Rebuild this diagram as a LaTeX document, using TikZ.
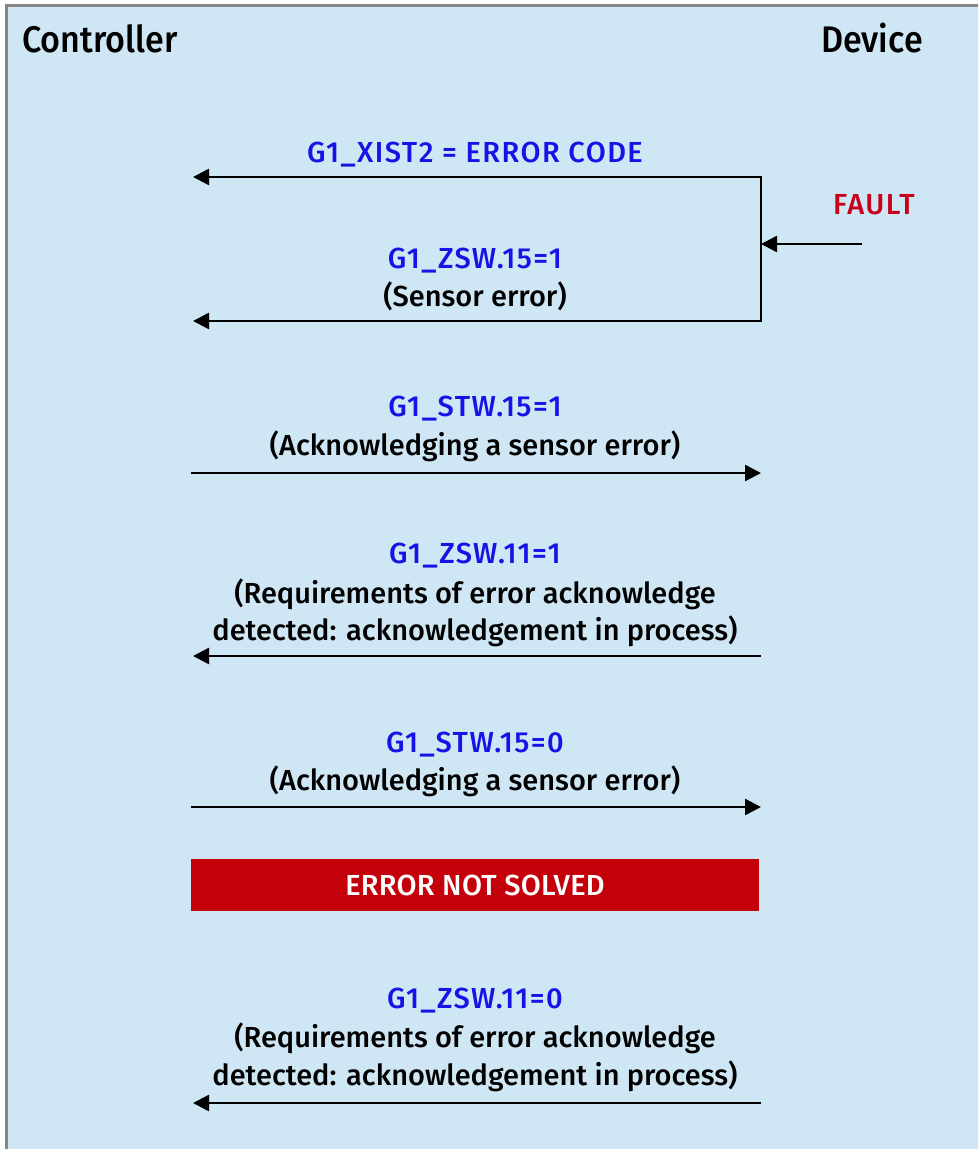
\documentclass[tikz,border=0pt]{standalone}
\usepackage{fontspec}
\setmainfont{Fira Sans}[BoldFont={Fira Sans Medium}]
\newfontfamily\titlefont{Fira Sans Medium}[FakeStretch=0.92]
\newfontfamily\sigfont{Fira Sans Medium}[LetterSpace=5]
\newfontfamily\descfont{Fira Sans Medium}
\newfontfamily\boxfont{Fira Sans Medium}[LetterSpace=1]
\usetikzlibrary{arrows.meta}
\definecolor{bgblue}{HTML}{CFE6F4}
\definecolor{frame}{HTML}{858585}
\definecolor{lblblue}{HTML}{1414E6}
\definecolor{faultred}{HTML}{C8001A}
\definecolor{boxred}{HTML}{C4000B}
\tikzset{
  title/.style={anchor=base west, inner sep=0pt, font=\titlefont\fontsize{37}{40}\selectfont},
  sig/.style={anchor=base, inner sep=0pt, text=lblblue, font=\sigfont\fontsize{29}{32}\selectfont},
  desc/.style={anchor=base, inner sep=0pt, text=black, font=\descfont\fontsize{29}{32}\selectfont},
  msg/.style={line width=2.6pt, -{Triangle[length=16pt,width=16pt]}},
  wire/.style={line width=2.6pt},
}
\begin{document}
\begin{tikzpicture}[x=1pt,y=-1pt]
\useasboundingbox (0,0) rectangle (978,1149);
\clip (0,0) rectangle (978,1149);
\fill[white] (0,0) rectangle (978,1149);
\draw[frame, line width=3.5pt, fill=bgblue] (6.5,5.5) rectangle (1000,1170);

\node[title] (ctrl) at (22,52) {Controller};
\node[title, anchor=base east] (dev) at (923,52) {Device};

% coordinates of the lifelines
\coordinate (c1) at (193,177);  \coordinate (d1) at (761,177);
\coordinate (c2) at (193,321);  \coordinate (d2) at (761,321);
\coordinate (fs) at (862,244);  \coordinate (fe) at (761,244);
\coordinate (c3) at (191,473);  \coordinate (d3) at (761,473);
\coordinate (c4) at (193,656);  \coordinate (d4) at (761,656);
\coordinate (c5) at (191,807);  \coordinate (d5) at (761,807);
\coordinate (c6) at (193,1103); \coordinate (d6) at (761,1103);

% row 1
\node[sig] (s1) at (475,162) {G1\_XIST2 = ERROR CODE};
\draw[msg] (d1) -- (c1);
\draw[wire, line cap=rect] (d1) -- (d2);
% fault
\node[sig, text=faultred] (fault) at (874,214) {FAULT};
\draw[msg] (fs) -- (fe);
% row 2
\node[sig] (s2) at (475,268) {G1\_ZSW.15=1};
\node[desc] (t2) at (475,306) {(Sensor error)};
\draw[msg] (d2) -- (c2);
% row 3
\node[sig] (s3) at (475,416) {G1\_STW.15=1};
\node[desc] (t3) at (475,455) {(Acknowledging a sensor error)};
\draw[msg] (c3) -- (d3);
% row 4
\node[sig] (s4) at (475,563) {G1\_ZSW.11=1};
\node[desc] (t4a) at (475,603) {(Requirements of error acknowledge};
\node[desc] (t4b) at (475,640) {detected: acknowledgement in process)};
\draw[msg] (d4) -- (c4);
% row 5
\node[sig] (s5) at (475,752) {G1\_STW.15=0};
\node[desc] (t5) at (475,790) {(Acknowledging a sensor error)};
\draw[msg] (c5) -- (d5);
% error box
\node[fill=boxred, minimum width=568pt, minimum height=52pt, inner sep=0pt,
      text=white, font=\boxfont\fontsize{29}{32}\selectfont] (err) at (475,885) {ERROR NOT SOLVED};
% row 6
\node[sig] (s6) at (475,1008) {G1\_ZSW.11=0};
\node[desc] (t6a) at (475,1047) {(Requirements of error acknowledge};
\node[desc] (t6b) at (475,1085) {detected: acknowledgement in process)};
\draw[msg] (d6) -- (c6);
\end{tikzpicture}
\end{document}
